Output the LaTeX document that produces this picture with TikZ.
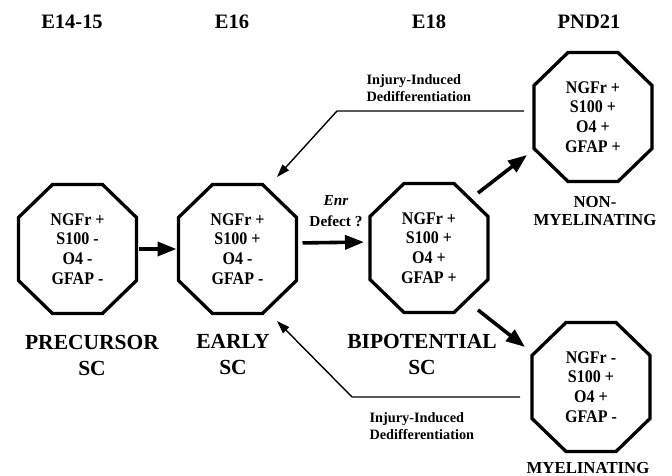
\documentclass[tikz,border=0pt]{standalone}
\usepackage{fontspec}
\setmainfont{Liberation Serif}
\newfontfamily\octfont[FakeStretch=0.9]{Liberation Serif}
\usetikzlibrary{arrows.meta}
\begin{document}
\begin{tikzpicture}[x=1pt,y=-1pt,
  oct/.style={rectangle, minimum width=118pt, minimum height=129pt,
    inner sep=0pt, outer sep=0pt, align=center,
    font=\octfont\bfseries\fontsize{17.8}{19.7}\selectfont},
  octline/.style={line width=3.3pt, line join=miter},
  hdr/.style={font=\bfseries\fontsize{20.5}{24}\selectfont},
  big/.style={align=center, font=\bfseries\fontsize{21.5}{26}\selectfont},
  mid/.style={align=center, font=\bfseries\fontsize{16.8}{18}\selectfont},
  small/.style={align=left, font=\bfseries\fontsize{14.3}{17}\selectfont},
  defect/.style={align=center, font=\bfseries\fontsize{15.3}{21}\selectfont},
  bigarrow/.style={line width=3.6pt, -{Triangle[length=19pt,width=14pt]}},
  thinarrow/.style={line width=1.4pt, -{Triangle[length=13pt,width=8.5pt]}}
]
\useasboundingbox (0,0) rectangle (672,476);

% headers
\node[hdr] (h1) at (72,22) {E14-15};
\node[hdr] (h2) at (232,22) {E16};
\node[hdr] (h3) at (429,22) {E18};
\node[hdr] (h4) at (589,22) {PND21};

% octagons
\node[oct] (p) at (77.5,249) {NGFr +\\S100 -\\O4 -\\GFAP -};
\node[oct] (e) at (237.5,249) {NGFr +\\S100 +\\O4 -\\GFAP -};
\node[oct] (b) at (429,248) {NGFr +\\S100 +\\O4 +\\GFAP +};
\node[oct] (nm) at (593,117) {NGFr +\\S100 +\\O4 +\\GFAP +};
\node[oct] (m) at (591,387) {NGFr -\\S100 +\\O4 +\\GFAP -};
\foreach \n in {p,e,b,nm,m}{
  \draw[octline] ([xshift=34pt]\n.north west) -- ([xshift=-34pt]\n.north east)
    -- ([yshift=-33pt]\n.north east) -- ([yshift=33pt]\n.south east)
    -- ([xshift=-34pt]\n.south east) -- ([xshift=34pt]\n.south west)
    -- ([yshift=33pt]\n.south west) -- ([yshift=-33pt]\n.north west) -- cycle;
}

% labels
\node[big] (lp) at (92,355) {PRECURSOR\\SC};
\node[big] (le) at (233,355) {EARLY\\SC};
\node[big] (lb) at (422,354) {BIPOTENTIAL\\SC};
\node[mid] (lnm) at (595,211) {NON-\\MYELINATING};
\node[mid] (lm) at (588,468) {MYELINATING};
\node[defect] (enr) at (336,211) {\textit{Enr}\\Defect ?};
\node[small, anchor=west] (it) at (363,88) {Injury-Induced\\Dedifferentiation};
\node[small, anchor=west] (ib) at (366,426) {Injury-Induced\\Dedifferentiation};

% main arrows
\draw[bigarrow, shorten <=2pt, shorten >=2pt] (p) -- (e);
\draw[bigarrow, shorten <=6pt, shorten >=6pt] ([yshift=6pt]e.east) -- ([yshift=6pt]b.west);
\draw[bigarrow] ([shift={(49,-55)}]b.center) -- ([shift={(-66,38)}]nm.center);
\draw[bigarrow] ([shift={(49,62)}]b.center) -- ([shift={(-66,-40)}]m.center);

% injury-induced dedifferentiation
\coordinate (t1) at (337,111);
\coordinate (b1) at (352,397);
\draw[thinarrow] ([shift={(-10,-6)}]nm.west) -- (t1) -- ([shift={(39.5,-72)}]e.center);
\draw[thinarrow] ([shift={(-12,10)}]m.west) -- (b1) -- ([shift={(39.5,72)}]e.center);
\end{tikzpicture}
\end{document}
